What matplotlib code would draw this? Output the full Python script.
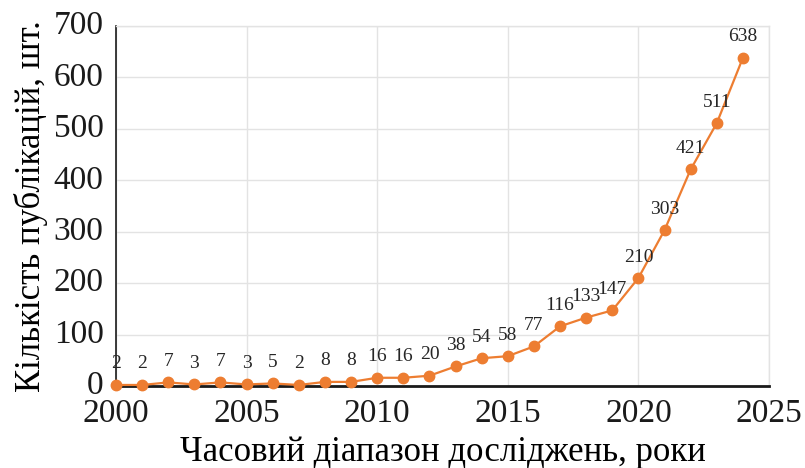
import matplotlib.pyplot as plt
import matplotlib.transforms as mtransforms

years = list(range(2000, 2025))
counts = [2, 2, 7, 3, 7, 3, 5, 2, 8, 8, 16, 16, 20, 38, 54, 58, 77,
          116, 133, 147, 210, 303, 421, 511, 638]

x_ticks = [2000, 2005, 2010, 2015, 2020, 2025]
y_ticks = [0, 100, 200, 300, 400, 500, 600, 700]

plt.rcParams["font.family"] = ["Liberation Serif", "DejaVu Serif"]

fig = plt.figure(figsize=(8.05, 4.68), dpi=100)
ax = fig.add_axes([116 / 805, 1 - 386 / 468, (769 - 116) / 805, (386 - 26) / 468])

ax.plot(years, counts, color="#ED7D31", linewidth=1.6, marker="o",
        markersize=7.5, zorder=3, clip_on=False)

for x, y in zip(years, counts):
    ax.annotate(str(y), (x, y), xytext=(0, 9), textcoords="offset points",
                ha="center", va="bottom", fontsize=14, color="#262626")

ax.set_xlim(2000, 2025)
ax.set_ylim(0, 700)
ax.set_xticks(x_ticks)
ax.set_yticks(y_ticks)
ax.tick_params(axis="both", labelsize=24, length=0, colors="#1a1a1a")
ax.tick_params(axis="x", pad=9)
ax.tick_params(axis="y", pad=9)
ax.grid(True, color="#e3e3e3", linewidth=1)
ax.set_axisbelow(True)

# y tick labels sit a little above their gridlines in the original
shift_up = mtransforms.ScaledTranslation(0, 2.5 / 72, fig.dpi_scale_trans)
for lbl in ax.get_yticklabels():
    lbl.set_transform(lbl.get_transform() + shift_up)

for side in ["top", "right"]:
    ax.spines[side].set_color("#e3e3e3")
    ax.spines[side].set_linewidth(1)
ax.spines["left"].set_color("#1a1a1a")
ax.spines["left"].set_linewidth(1.2)
ax.spines["bottom"].set_color("#1a1a1a")
ax.spines["bottom"].set_linewidth(2)

ax.set_xlabel("Часовий діапазон досліджень, роки", fontsize=25, labelpad=5)
ax.set_ylabel("Кількість публікацій, шт.", fontsize=25, labelpad=4)

fig.savefig("out.png", dpi=100)
